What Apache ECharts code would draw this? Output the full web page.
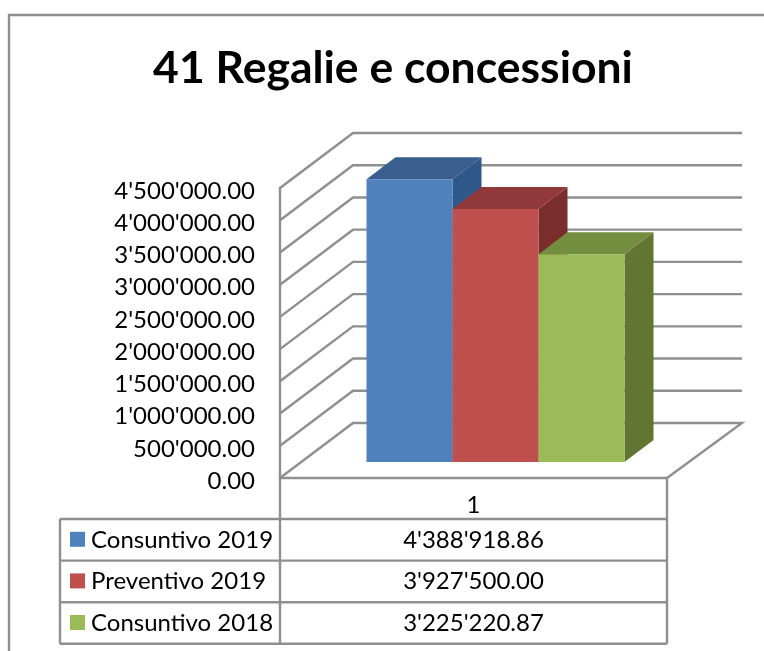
<!DOCTYPE html>
<html>
<head>
<meta charset="utf-8">
<style>
html, body { margin: 0; padding: 0; background: #fff; }
#chart { width: 764px; height: 651px; }
</style>
<script src="https://cdn.jsdelivr.net/npm/echarts@6/dist/echarts.min.js"></script>
</head>
<body>
<div id="chart"></div>
<script>
var titleText = '41 Regalie e concessioni';
var categories = ['1'];
var seriesNames = ['Consuntivo 2019', 'Preventivo 2019', 'Consuntivo 2018'];
var seriesValues = [4388918.86, 3927500.00, 3225220.87];
var tableLabels = ["4'388'918.86", "3'927'500.00", "3'225'220.87"];
var tickValues = [0, 500000, 1000000, 1500000, 2000000, 2500000, 3000000, 3500000, 4000000, 4500000];
var frontColors = ['#4F81BD', '#C0504D', '#9BBB59'];
var topColors = ['#3A5F8E', '#91393A', '#748E3F'];
var sideColors = ['#30578A', '#7A2E2C', '#637533'];

var fontName = 'Lato';
var lineColor = '#8F8F8F';

// pseudo 3d: how far the back wall sits from the front of the floor
var wallDx = 73, wallDy = -55;
var barDx = 29, barDy = -22;
var barLiftX = 22, barLiftY = -16;   // bars stand a bit inside the floor
var wallRight = 742;

var chart = echarts.init(document.getElementById('chart'));

function renderWall(params, api) {
    var v = api.value(0);
    var p = api.coord([0, v]);
    var left = params.coordSys.x;
    var y = p[1];
    var pts = [[left, y], [left + wallDx, y + wallDy], [wallRight, y + wallDy]];
    if (v === 0) {
        pts.push([params.coordSys.x + params.coordSys.width, y]);
    }
    return {
        type: 'polyline',
        shape: { points: pts },
        style: { stroke: lineColor, lineWidth: 2.4, fill: null }
    };
}

function renderBar(params, api) {
    var i = params.seriesIndex - 1;
    var band = api.size([1, 0])[0];
    var w = band / 4.5;
    var c = api.coord([0, api.value(1)]);
    var b = api.coord([0, 0]);
    var x0 = c[0] - 1.5 * w + i * w + barLiftX;
    var x1 = x0 + w;
    var yt = c[1] + barLiftY;
    var yb = b[1] + barLiftY;
    return {
        type: 'group',
        children: [
            { type: 'polygon', shape: { points: [[x1, yt], [x1 + barDx, yt + barDy], [x1 + barDx, yb + barDy], [x1, yb]] },
              style: { fill: sideColors[i] } },
            { type: 'polygon', shape: { points: [[x0, yt], [x0 + barDx, yt + barDy], [x1 + barDx, yt + barDy], [x1, yt]] },
              style: { fill: topColors[i] } },
            { type: 'rect', shape: { x: x0, y: yt, width: w, height: yb - yt },
              style: { fill: frontColors[i] } }
        ]
    };
}

var series = [{
    type: 'custom',
    name: 'wall',
    coordinateSystem: 'cartesian2d',
    renderItem: renderWall,
    silent: true,
    encode: { y: 0 },
    data: tickValues.map(function (t) { return [t]; })
}];
seriesNames.forEach(function (name, i) {
    series.push({
        type: 'custom',
        name: name,
        coordinateSystem: 'cartesian2d',
        renderItem: renderBar,
        encode: { x: 0, y: 1 },
        data: [[0, seriesValues[i]]]
    });
});

// data table under the chart
var tableX0 = 60, tableX1 = 280, tableX2 = 667;
var tableTop = 478, rowTop = 519, rowH = 41.6;
var graphics = [];
function tableLine(x1, y1, x2, y2) {
    graphics.push({
        type: 'line',
        shape: { x1: x1, y1: y1, x2: x2, y2: y2 },
        style: { stroke: lineColor, lineWidth: 2.4 },
        silent: true
    });
}
tableLine(tableX1, tableTop, tableX1, rowTop + 3 * rowH);
tableLine(tableX2, tableTop, tableX2, rowTop + 3 * rowH);
tableLine(tableX0, rowTop, tableX0, rowTop + 3 * rowH);
for (var r = 0; r <= 3; r++) {
    tableLine(tableX0, rowTop + r * rowH, tableX2, rowTop + r * rowH);
}
seriesNames.forEach(function (name, i) {
    var cy = rowTop + (i + 0.5) * rowH;
    graphics.push({
        type: 'rect',
        shape: { x: 70, y: cy - 8, width: 15, height: 15 },
        style: { fill: frontColors[i] }
    });
    graphics.push({
        type: 'text',
        x: 91, y: cy,
        style: { text: name, font: '24px ' + fontName, fill: '#000', textVerticalAlign: 'middle' }
    });
    graphics.push({
        type: 'text',
        x: (tableX1 + tableX2) / 2, y: cy,
        style: { text: tableLabels[i], font: '24px ' + fontName, fill: '#000', textAlign: 'center', textVerticalAlign: 'middle' }
    });
});
// outer frame: left and top only, the crop cuts the rest
graphics.push({
    type: 'polyline',
    shape: { points: [[9, 651], [9, 15], [764, 15]] },
    style: { stroke: lineColor, lineWidth: 2.4, fill: null },
    silent: true
});

var option = {
    animation: false,
    backgroundColor: '#fff',
    title: {
        text: titleText,
        left: 388,
        top: 41,
        textAlign: 'center',
        textStyle: { fontFamily: fontName, fontSize: 44.5, fontWeight: 'bold', color: '#000' }
    },
    grid: { left: 280, right: 97, top: 188, bottom: 173 },
    xAxis: {
        type: 'category',
        data: categories,
        axisLine: { show: true, lineStyle: { color: lineColor, width: 2.4 } },
        axisTick: { show: false },
        axisLabel: { margin: 15, fontFamily: fontName, fontSize: 24, color: '#000' }
    },
    yAxis: {
        type: 'value',
        min: 0,
        max: 4500000,
        interval: 500000,
        axisLine: { show: true, lineStyle: { color: lineColor, width: 2.4 } },
        axisTick: { show: false },
        splitLine: { show: false },
        axisLabel: {
            margin: 25,
            color: '#000',
            formatter: function (v) {
                return '{t|' + v.toFixed(2).replace(/\B(?=(\d{3})+(?!\d))/g, "'") + '}';
            },
            rich: {
                // labels sit a little below their tick in the original
                t: { fontFamily: fontName, fontSize: 24, color: '#000', padding: [6, 0, 0, 0] }
            }
        }
    },
    graphic: graphics,
    series: series
};
chart.setOption(option);
</script>
</body>
</html>
